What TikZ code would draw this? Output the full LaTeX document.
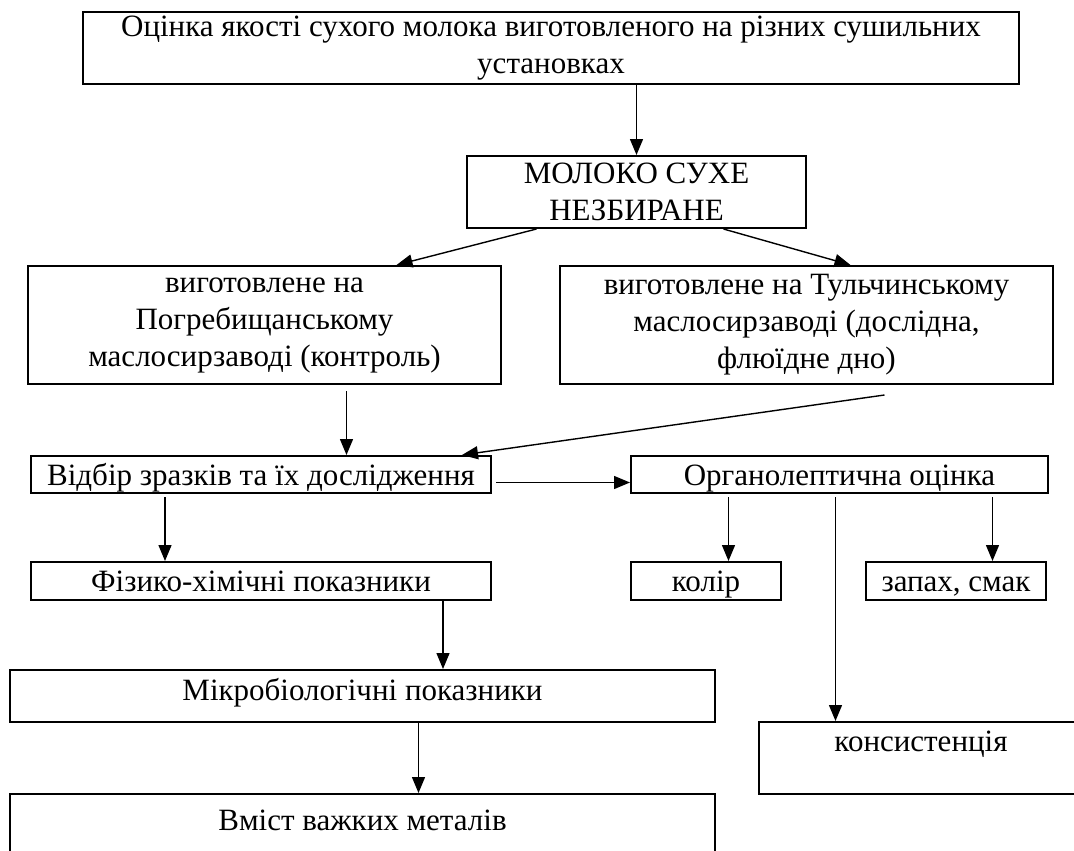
\documentclass[tikz,border=0pt]{standalone}
\usepackage{fontspec}
\setmainfont{Liberation Serif}
\usetikzlibrary{arrows.meta}
\tikzset{
  blk/.style={draw, line width=2pt, inner sep=0pt, anchor=north west, align=center},
  oneline/.style={text height=29pt, text depth=8pt},
  arr/.style={line width=1.4pt, -{Triangle[length=16pt,width=13pt]}}
}
\begin{document}
\begin{tikzpicture}[x=1pt,y=-1pt,font=\fontsize{31}{37}\selectfont]
\clip (0,0) rectangle (1074,851);

% boxes
\node[blk, minimum width=936pt, minimum height=72pt] (T) at (82,11) {Оцінка якості сухого молока виготовленого на різних сушильних\\установках};
\node[blk, minimum width=339pt, minimum height=72pt] (M) at (466,155) {МОЛОКО СУХЕ\\НЕЗБИРАНЕ};
\node[blk, minimum width=473pt, minimum height=118pt] (P) at (27,265) {виготовлене на\\Погребищанському\\маслосирзаводі (контроль)};
\node[blk, minimum width=493pt, minimum height=118pt] (U) at (559,265) {виготовлене на Тульчинському\\маслосирзаводі (дослідна,\\флюїдне дно)};
\node[blk, oneline, minimum width=460pt] (S) at (30,455) {Відбір зразків та їх дослідження};
\node[blk, oneline, minimum width=417pt] (O) at (630,455) {Органолептична оцінка};
\node[blk, oneline, minimum width=460pt, text depth=9pt] (F) at (30,561) {Фізико-хімічні показники};
\node[blk, oneline, minimum width=150pt, text depth=9pt] (K) at (630,561) {колір};
\node[blk, oneline, minimum width=180pt, text depth=9pt] (Z) at (865,561) {запах, смак};
\node[blk, minimum width=705pt, text height=30pt, text depth=22pt] (B) at (9,669) {Мікробіологічні показники};
\node[blk, minimum width=705pt, text height=36pt, text depth=26pt] (V) at (9,793) {Вміст важких металів};
\node[blk, minimum width=324pt, text height=29pt, text depth=43pt] (C) at (758,721) {консистенція};

% arrows
\draw[arr] (M.north |- T.south) -- (M.north);
\draw[arr] ([xshift=-100pt]M.south) -- ([xshift=132pt]P.north);
\draw[arr] ([xshift=87pt]M.south) -- ([xshift=44pt]U.north);
\draw[arr] ([xshift=82pt,yshift=-6pt]P.south) -- ([xshift=82pt]P.south |- S.north);
\draw[arr] ([xshift=78pt,yshift=-10pt]U.south) -- ([xshift=201pt]S.north);
\draw[arr] ([xshift=4pt,yshift=-8pt]S.east) -- ([yshift=-8pt]O.west);
\draw[arr] ([xshift=-96pt,yshift=-3pt]S.south) -- ([xshift=-96pt]S.south |- F.north);
\draw[arr] ([xshift=182pt]F.south) -- ([xshift=182pt]F.south |- B.north);
\draw[arr] ([xshift=56pt]B.south) -- ([xshift=56pt]B.south |- V.north);
\draw[arr] ([xshift=-111pt,yshift=-3pt]O.south) -- ([xshift=-111pt]O.south |- K.north);
\draw[arr] ([xshift=153pt,yshift=-3pt]O.south) -- ([xshift=153pt]O.south |- Z.north);
\draw[arr] ([xshift=-4pt,yshift=-3pt]O.south) -- ([xshift=-4pt]O.south |- C.north);

\end{tikzpicture}
\end{document}
